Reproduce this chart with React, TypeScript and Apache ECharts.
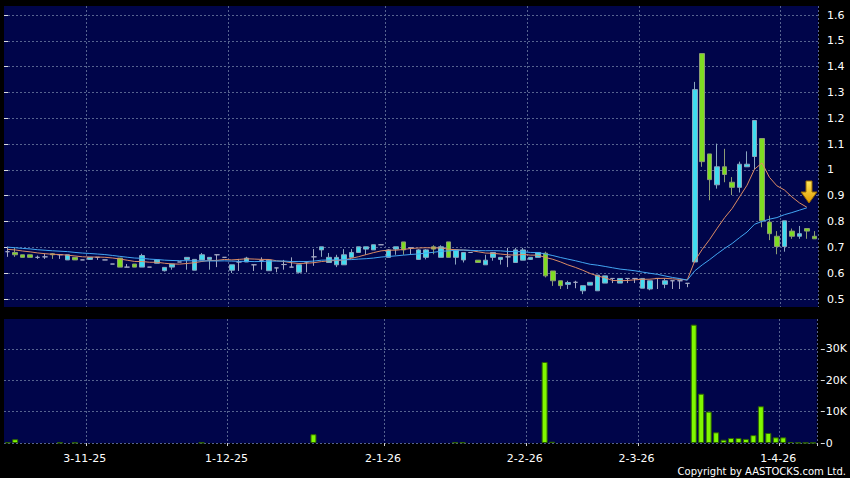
import React, { useEffect, useRef } from 'react';
import * as echarts from 'echarts';

// [open, close, low, high]
const candles: number[][] = [
  [0.68, 0.68, 0.66, 0.7], [0.677, 0.668, 0.66, 0.695], [0.668, 0.658, 0.658, 0.668], [0.668, 0.658, 0.658, 0.668],
  [0.658, 0.658, 0.652, 0.665], [0.66, 0.66, 0.652, 0.672], [0.672, 0.668, 0.652, 0.675], [0.668, 0.668, 0.652, 0.668],
  [0.648, 0.668, 0.648, 0.668], [0.658, 0.648, 0.648, 0.658], [0.648, 0.648, 0.648, 0.648], [0.65, 0.658, 0.648, 0.658],
  [0.658, 0.658, 0.648, 0.658], [0.648, 0.648, 0.648, 0.648], [0.632, 0.632, 0.632, 0.632], [0.655, 0.62, 0.62, 0.655],
  [0.62, 0.62, 0.62, 0.632], [0.632, 0.62, 0.62, 0.632], [0.62, 0.665, 0.62, 0.672], [0.62, 0.62, 0.62, 0.62],
  [0.635, 0.648, 0.635, 0.648], [0.606, 0.619, 0.603, 0.619], [0.62, 0.632, 0.61, 0.632], [0.64, 0.64, 0.64, 0.64],
  [0.65, 0.658, 0.61, 0.658], [0.608, 0.65, 0.608, 0.65], [0.648, 0.668, 0.648, 0.675], [0.65, 0.658, 0.61, 0.658],
  [0.668, 0.668, 0.62, 0.668], [0.658, 0.658, 0.658, 0.658], [0.608, 0.629, 0.597, 0.629], [0.64, 0.64, 0.605, 0.652],
  [0.64, 0.655, 0.64, 0.66], [0.629, 0.629, 0.605, 0.629], [0.645, 0.645, 0.61, 0.658], [0.606, 0.647, 0.606, 0.647],
  [0.617, 0.617, 0.6, 0.617], [0.63, 0.63, 0.61, 0.648], [0.62, 0.62, 0.62, 0.658], [0.6, 0.629, 0.595, 0.629],
  [0.64, 0.64, 0.6, 0.64], [0.66, 0.66, 0.625, 0.69], [0.687, 0.699, 0.66, 0.699], [0.638, 0.658, 0.638, 0.675],
  [0.629, 0.658, 0.62, 0.668], [0.629, 0.668, 0.629, 0.69], [0.658, 0.677, 0.658, 0.69], [0.677, 0.699, 0.677, 0.699],
  [0.69, 0.699, 0.668, 0.699], [0.687, 0.707, 0.687, 0.707], [0.707, 0.707, 0.707, 0.707], [0.658, 0.687, 0.658, 0.69],
  [0.69, 0.699, 0.668, 0.699], [0.718, 0.687, 0.668, 0.718], [0.695, 0.695, 0.668, 0.695], [0.65, 0.687, 0.65, 0.69],
  [0.658, 0.687, 0.65, 0.69], [0.699, 0.69, 0.67, 0.705], [0.658, 0.699, 0.658, 0.705], [0.718, 0.658, 0.658, 0.718],
  [0.658, 0.687, 0.63, 0.69], [0.648, 0.677, 0.638, 0.677], [0.677, 0.677, 0.677, 0.677], [0.647, 0.638, 0.638, 0.647],
  [0.629, 0.647, 0.629, 0.668], [0.658, 0.677, 0.645, 0.677], [0.65, 0.658, 0.63, 0.658], [0.66, 0.66, 0.62, 0.695],
  [0.638, 0.687, 0.638, 0.695], [0.647, 0.687, 0.647, 0.695], [0.65, 0.658, 0.648, 0.658], [0.658, 0.677, 0.658, 0.677],
  [0.674, 0.586, 0.58, 0.68], [0.605, 0.567, 0.547, 0.605], [0.567, 0.548, 0.535, 0.567], [0.553, 0.56, 0.535, 0.567],
  [0.561, 0.561, 0.538, 0.567], [0.528, 0.548, 0.515, 0.548], [0.55, 0.561, 0.55, 0.561], [0.528, 0.589, 0.528, 0.589],
  [0.558, 0.586, 0.558, 0.586], [0.576, 0.576, 0.558, 0.576], [0.558, 0.576, 0.558, 0.576], [0.576, 0.576, 0.558, 0.576],
  [0.576, 0.576, 0.558, 0.576], [0.538, 0.576, 0.538, 0.576], [0.535, 0.567, 0.53, 0.567], [0.576, 0.576, 0.535, 0.576],
  [0.553, 0.567, 0.538, 0.576], [0.567, 0.567, 0.535, 0.567], [0.567, 0.567, 0.535, 0.567], [0.557, 0.557, 0.542, 0.557],
  [0.64, 1.31, 0.64, 1.34], [1.45, 1.03, 1.01, 1.45], [1.06, 0.96, 0.88, 1.06], [0.94, 1.01, 0.925, 1.1],
  [1.01, 0.98, 0.95, 1.08], [0.95, 0.93, 0.9, 0.97], [0.93, 1.02, 0.91, 1.03], [1.01, 1.02, 1.01, 1.07],
  [1.05, 1.19, 1.0, 1.19], [1.12, 0.8, 0.775, 1.12], [0.795, 0.75, 0.725, 0.82], [0.74, 0.7, 0.67, 0.76],
  [0.7, 0.8, 0.68, 0.8], [0.76, 0.74, 0.73, 0.77], [0.74, 0.75, 0.73, 0.78], [0.77, 0.76, 0.73, 0.77],
  [0.74, 0.73, 0.73, 0.76],
];

const volumes: number[] = [
  200, 1200, 0, 0, 0, 0, 0, 120, 0, 120,
  0, 0, 0, 0, 0, 0, 0, 0, 0, 0,
  0, 0, 0, 0, 0, 0, 120, 0, 0, 0,
  0, 0, 0, 0, 0, 0, 0, 0, 0, 0,
  0, 2800, 0, 0, 0, 0, 0, 0, 0, 0,
  0, 0, 0, 0, 0, 0, 0, 0, 0, 0,
  200, 200, 0, 0, 0, 0, 0, 0, 0, 0,
  0, 0, 25800, 400, 0, 0, 0, 0, 0, 0,
  0, 0, 0, 0, 0, 0, 0, 0, 0, 0,
  0, 0, 37700, 15700, 10000, 3400, 1050, 1600, 1600, 1300,
  2500, 11700, 3200, 1800, 1800, 300, 100, 50, 50,
];

// closes of the 19 sessions before the first visible one (feed the moving averages)
const priorCloses: number[] = [
  0.71, 0.71, 0.7, 0.72, 0.7, 0.71, 0.7, 0.7, 0.71, 0.7,
  0.69, 0.7, 0.69, 0.7, 0.69, 0.69, 0.68, 0.69, 0.68,
];

const maLastIndex = 107;
const xTickIndex = [11, 30, 51, 70, 85, 104];
const xTickLabels = ['3-11-25', '1-12-25', '2-1-26', '2-2-26', '2-3-26', '1-4-26'];
const volumeTicks = [0, 10000, 20000, 30000];

const categories = candles.map((_, i) => String(i));

function movingAverage(period: number): (number | string)[] {
  const closes = [...priorCloses, ...candles.map((c) => c[1])];
  const off = priorCloses.length;
  return candles.map((_, i) => {
    if (i > maLastIndex) return '-';
    const j = i + off;
    let s = 0;
    for (let k = j - period + 1; k <= j; k++) s += closes[k];
    return +(s / period).toFixed(4);
  });
}

const FONT = 'DejaVu Sans';
const GRID_LINE = { color: '#56638f', type: [2, 2] as number[], width: 1 };
const L = 4;
const R = 32;

export default function App() {
  const ref = useRef<HTMLDivElement>(null);
  useEffect(() => {
    if (!ref.current) return;
    const chart = echarts.init(ref.current, undefined, { renderer: 'svg' });
    const isTick = (i: number) => xTickIndex.indexOf(i) >= 0;
    const option: any = {
      animation: false,
      backgroundColor: '#000000',
      grid: [
        { left: L, right: R, top: 6, height: 301, show: true, backgroundColor: '#00054a', borderWidth: 0 },
        { left: L, right: R, top: 15, height: 284, show: false },
        { left: L, right: R, top: 319, height: 124, show: true, backgroundColor: '#00054a', borderWidth: 0 },
      ],
      xAxis: [
        {
          type: 'category', gridIndex: 0, data: categories, boundaryGap: true,
          axisLine: { show: false }, axisTick: { show: false }, axisLabel: { show: false },
          splitLine: { show: true, interval: (i: number) => isTick(i), lineStyle: GRID_LINE },
        },
        { type: 'value', gridIndex: 1, min: 0, max: 1, show: false },
        {
          type: 'category', gridIndex: 2, data: categories, boundaryGap: true, position: 'bottom', offset: 3,
          axisLine: { show: false },
          axisTick: { show: true, interval: (i: number) => isTick(i), length: 3, lineStyle: { color: '#cfcfcf' } },
          axisLabel: {
            show: true, interval: (i: number) => isTick(i), margin: 7,
            formatter: (v: string) => { const k = xTickIndex.indexOf(+v); return k >= 0 ? xTickLabels[k] : ''; },
            color: '#ffffff', fontSize: 11, fontFamily: FONT, padding: [0, 10, 0, 0],
          },
          splitLine: { show: true, interval: (i: number) => isTick(i), lineStyle: GRID_LINE },
        },
      ],
      yAxis: [
        { type: 'value', gridIndex: 0, min: 0.465, max: 1.635, show: false, splitLine: { show: false } },
        {
          type: 'value', gridIndex: 1, min: 0.5, max: 1.6, interval: 0.1, position: 'right', offset: 4,
          axisLine: { show: false },
          axisTick: { show: true, length: 4, lineStyle: { color: '#dddddd' } },
          axisLabel: { color: '#ffffff', fontSize: 11, fontFamily: FONT, margin: 5,
            formatter: (v: number) => String(+v.toFixed(1)) },
          splitLine: { show: true, lineStyle: GRID_LINE },
        },
        {
          type: 'value', gridIndex: 2, min: 0, max: 39500, interval: 10000, position: 'right', offset: 4,
          axisLine: { show: false },
          axisTick: { show: true, length: 4, customValues: volumeTicks, lineStyle: { color: '#dddddd' } },
          axisLabel: {
            color: '#ffffff', fontSize: 11, fontFamily: FONT, margin: 5, customValues: volumeTicks,
            formatter: (v: number) => (v % 10000 === 0 ? (v === 0 ? '0' : v / 1000 + 'K') : ''),
          },
          splitLine: { show: true, lineStyle: GRID_LINE },
        },
      ],
      series: [
        {
          type: 'candlestick', xAxisIndex: 0, yAxisIndex: 0, barWidth: 5,
          data: candles,
          itemStyle: {
            color: '#3fdcef', color0: '#7edc22',
            borderColor: '#8aa6bf', borderColor0: '#8c9c74', borderColorDoji: '#a3a9c2', borderWidth: 1,
          },
          z: 2,
        },
        {
          type: 'line', xAxisIndex: 0, yAxisIndex: 0, data: movingAverage(10), showSymbol: false,
          lineStyle: { color: '#dc8c64', width: 1 }, z: 3,
        },
        {
          type: 'line', xAxisIndex: 0, yAxisIndex: 0, data: movingAverage(20), showSymbol: false,
          lineStyle: { color: '#42a6f2', width: 1 }, z: 3,
        },
        {
          type: 'bar', xAxisIndex: 2, yAxisIndex: 2, data: volumes.map((v) => (v > 0 ? v : '-')), barWidth: 6,
          itemStyle: { color: '#80f800', borderColor: '#2e6400', borderWidth: 1 },
        },
      ],
      graphic: [
        {
          type: 'polygon', z: 10,
          shape: { points: [[806, 181], [812, 181], [812, 192], [817, 192], [809, 203], [801, 192], [806, 192]] },
          style: {
            fill: new echarts.graphic.LinearGradient(0, 0, 0, 1, [
              { offset: 0, color: '#ffe75a' }, { offset: 1, color: '#e09a00' },
            ]),
            stroke: '#9a6a00', lineWidth: 1,
          },
        },
        {
          type: 'text', x: 846, y: 471, z: 10,
          style: { text: 'Copyright by AASTOCKS.com Ltd.', fill: '#ffffff', font: '10px "DejaVu Sans"',
            textAlign: 'right', textVerticalAlign: 'middle' },
        },
      ],
    };
    chart.setOption(option);
    return () => chart.dispose();
  }, []);
  return <div ref={ref} style={{ position: 'fixed', left: 0, top: 0, width: 850, height: 478 }} />;
}
